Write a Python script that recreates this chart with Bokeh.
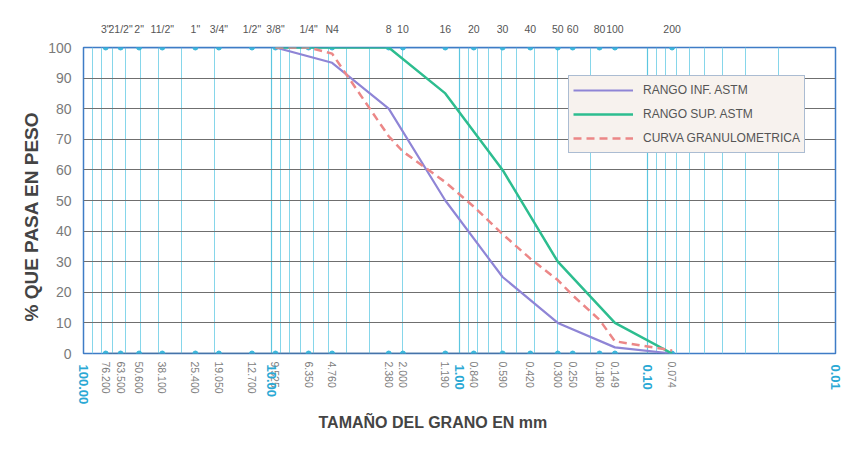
from bokeh.plotting import figure
from bokeh.models import (Range1d, FixedTicker, LinearAxis, LogAxis, Legend,
                          LegendItem, Grid, Title)
from bokeh.embed import file_html
from bokeh.resources import INLINE

# ---- data -------------------------------------------------------------
sieve_names = ['3"', '21/2"', '2"', '11/2"', '1"', '3/4"', '1/2"', '3/8"', '1/4"', 'N4',
               '8', '10', '16', '20', '30', '40', '50', '60', '80', '100', '200']
sieve_mm = [76.2, 63.5, 50.6, 38.1, 25.4, 19.05, 12.7, 9.525, 6.35, 4.76,
            2.38, 2.0, 1.19, 0.84, 0.59, 0.42, 0.30, 0.25, 0.18, 0.149, 0.074]
sieve_mm_labels = ["76.200", "63.500", "50.600", "38.100", "25.400", "19.050", "12.700",
                   "9.525", "6.350", "4.760", "2.380", "2.000", "1.190", "0.840", "0.590",
                   "0.420", "0.300", "0.250", "0.180", "0.149", "0.074"]
sieve_top_pct = [100] * len(sieve_mm)
sieve_bottom_pct = [0] * len(sieve_mm)

astm_mm = [9.525, 4.76, 2.38, 1.19, 0.59, 0.30, 0.149, 0.074]
rango_inf = [100, 95, 80, 50, 25, 10, 2, 0]
rango_sup = [100, 100, 100, 85, 60, 30, 10, 0]

curva_mm = [9.525, 6.35, 4.76, 2.38, 2.0, 1.19, 0.84, 0.59, 0.42, 0.30, 0.25, 0.18, 0.149, 0.074]
curva_pct = [100, 100, 98, 71, 66, 56, 48, 39, 31, 24, 19, 11, 4, 1]

decades = [100, 10, 1, 0.1, 0.01]
decade_labels = ["100.00", "10.00", "1.00", "0.10", "0.01"]
y_ticks = list(range(0, 101, 10))

FONT = "Liberation Sans"

# ---- figure -----------------------------------------------------------
p = figure(width=848, height=434, x_axis_type="log",
           x_range=Range1d(100, 0.01), y_range=Range1d(0, 100),
           output_backend="svg", toolbar_location=None,
           x_axis_location=None, y_axis_location=None,
           min_border_left=83, min_border_right=13, min_border_top=47, min_border_bottom=79)
for g in p.grid:
    g.visible = False
p.background_fill_color = "white"
p.border_fill_color = "white"
p.outline_line_color = "#3f7cc6"
p.outline_line_width = 1.5

minor = [m * d for d in [10, 1, 0.1, 0.01] for m in range(2, 10)]
xgrid = Grid(dimension=0, ticker=FixedTicker(ticks=decades, minor_ticks=minor),
             grid_line_color="#5cc6e0", grid_line_width=1.2,
             minor_grid_line_color="#86d6ea", minor_grid_line_width=1)
ygrid = Grid(dimension=1, ticker=FixedTicker(ticks=y_ticks),
             grid_line_color="#6f6f6f", grid_line_width=1)
p.add_layout(xgrid, "center")
p.add_layout(ygrid, "center")

# ---- axes -------------------------------------------------------------
common = dict(axis_line_color=None, major_tick_line_color=None, minor_tick_line_color=None,
              major_tick_out=0, major_tick_in=0, minor_tick_out=0, minor_tick_in=0)

yaxis = LinearAxis(ticker=FixedTicker(ticks=y_ticks),
                   major_label_text_font_size="14px", major_label_text_color="#7a7a7a",
                   major_label_text_font=FONT, major_label_standoff=12, **common)
p.add_layout(yaxis, "left")
p.add_layout(Title(text="% QUE PASA EN PESO", align="left", offset=32, standoff=7,
                   text_font=FONT, text_font_style="bold", text_font_size="19px",
                   text_color="#444444"), "left")

top_axis = LogAxis(ticker=FixedTicker(ticks=sieve_mm),
                   major_label_overrides=dict(zip(sieve_mm, sieve_names)),
                   major_label_text_font_size="10.5px", major_label_text_color="#555555",
                   major_label_text_font=FONT, major_label_standoff=13, **common)
p.add_layout(top_axis, "above")

bottom_axis = LogAxis(ticker=FixedTicker(ticks=sieve_mm),
                      major_label_overrides=dict(zip(sieve_mm, sieve_mm_labels)),
                      major_label_orientation="vertical",
                      major_label_text_font_size="10.5px", major_label_text_color="#7d7d7d",
                      major_label_text_font=FONT, major_label_standoff=8, **common)
p.add_layout(bottom_axis, "below")

decade_axis = LogAxis(ticker=FixedTicker(ticks=decades),
                      major_label_overrides=dict(zip(decades, decade_labels)),
                      major_label_orientation="vertical",
                      major_label_text_font_size="13px", major_label_text_color="#2aa8d4",
                      major_label_text_font_style="bold",
                      major_label_text_font=FONT, major_label_standoff=-32, **common)
p.add_layout(decade_axis, "below")

p.add_layout(Title(text="TAMAÑO DEL GRANO EN mm", align="left", offset=235, standoff=8,
                   text_font=FONT, text_font_style="bold", text_font_size="16px",
                   text_color="#444444"), "below")

# ---- series -----------------------------------------------------------
p.line(sieve_mm, sieve_top_pct, line_color="#3f7cc6", line_width=1.5)
p.scatter(sieve_mm, sieve_top_pct, size=5, fill_color="#3cb6da", line_color="#3cb6da")
p.line(sieve_mm, sieve_bottom_pct, line_color="#4d6b8c", line_width=1.5)
p.scatter(sieve_mm, sieve_bottom_pct, size=5, fill_color="#3cb6da", line_color="#3cb6da")

r_inf = p.line(astm_mm, rango_inf, line_color="#8f85d6", line_width=2.2)
r_sup = p.line(astm_mm, rango_sup, line_color="#2dbd8f", line_width=2.5)
r_cur = p.line(curva_mm, curva_pct, line_color="#ec8787", line_width=2.5, line_dash="8 5")

legend = Legend(items=[LegendItem(label="RANGO INF. ASTM", renderers=[r_inf]),
                       LegendItem(label="RANGO SUP. ASTM", renderers=[r_sup]),
                       LegendItem(label="CURVA GRANULOMETRICA", renderers=[r_cur])],
                location=(485, 200), orientation="vertical",
                background_fill_color="#f7f2ee", background_fill_alpha=1,
                border_line_color="#5f86b6", border_line_width=1.5,
                label_text_font=FONT, label_text_font_size="12px", label_text_color="#555555",
                glyph_width=60, glyph_height=20, label_height=20, label_standoff=10,
                spacing=4, padding=4, margin=0)
p.add_layout(legend, "center")

open("out.html", "w").write(file_html(p, INLINE))
